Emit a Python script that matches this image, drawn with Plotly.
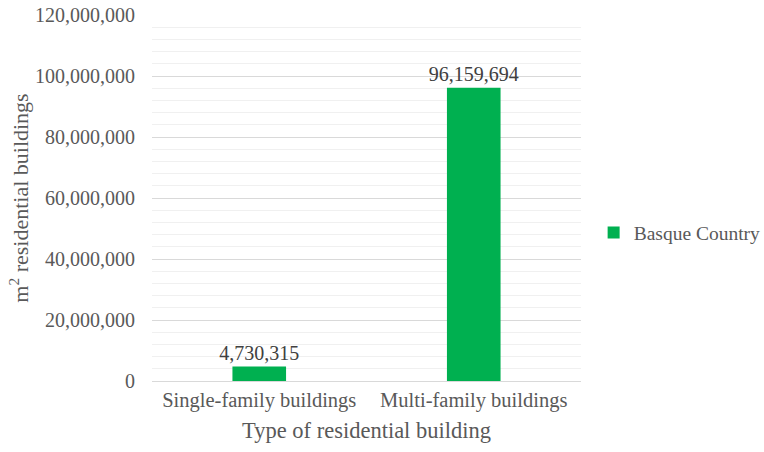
import plotly.graph_objects as go

categories = ["Single-family buildings", "Multi-family buildings"]
values = [4730315, 96159694]
value_labels = ["4,730,315", "96,159,694"]
series_name = "Basque Country"
y_ticks = [0, 20000000, 40000000, 60000000, 80000000, 100000000, 120000000]
y_tick_labels = ["0", "20,000,000", "40,000,000", "60,000,000", "80,000,000", "100,000,000", "120,000,000"]

FONT = "Liberation Serif, Times New Roman, serif"
TEXT = "#595959"
GREEN = "#00B050"

fig = go.Figure()
fig.add_trace(go.Bar(
    x=categories,
    y=values,
    name=series_name,
    marker=dict(color=GREEN, line=dict(width=0)),
    width=0.25,
    text=value_labels,
    textposition="outside",
    constraintext="none",
    textfont=dict(family=FONT, size=20, color="#404040"),
    cliponaxis=False,
    showlegend=True,
))

fig.update_layout(
    width=764,
    height=452,
    margin=dict(l=152, r=183, t=15, b=71, autoexpand=False),
    paper_bgcolor="white",
    plot_bgcolor="white",
    font=dict(family=FONT, size=20, color=TEXT),
    showlegend=True,
    legend=dict(
        xref="container", yref="container",
        x=0.777, y=0.485, xanchor="left", yanchor="middle",
        font=dict(family=FONT, size=19.5, color=TEXT),
        itemwidth=30,
        bgcolor="rgba(0,0,0,0)",
    ),
    xaxis=dict(
        automargin=False,
        showline=True,
        linecolor="#d9d9d9",
        linewidth=1,
        ticks="",
        ticklabelstandoff=0,
        tickfont=dict(family=FONT, size=20.5, color=TEXT),
        title=dict(text="Type of residential building",
                   font=dict(family=FONT, size=22.5, color=TEXT),
                   standoff=11),
    ),
    yaxis=dict(
        automargin=False,
        range=[0, 120000000],
        tickvals=y_ticks,
        ticktext=y_tick_labels,
        showgrid=True,
        gridcolor="#d9d9d9",
        gridwidth=1,
        zeroline=False,
        ticks="",
        ticklabelstandoff=16,
        tickfont=dict(family=FONT, size=20, color=TEXT),
        minor=dict(dtick=4000000, showgrid=True, gridcolor="#f0f0f0", gridwidth=1),
        title=dict(text="m<sup>2</sup> residential buildings",
                   font=dict(family=FONT, size=22, color=TEXT),
                   standoff=0),
    ),
)

fig.write_html("out.html")
